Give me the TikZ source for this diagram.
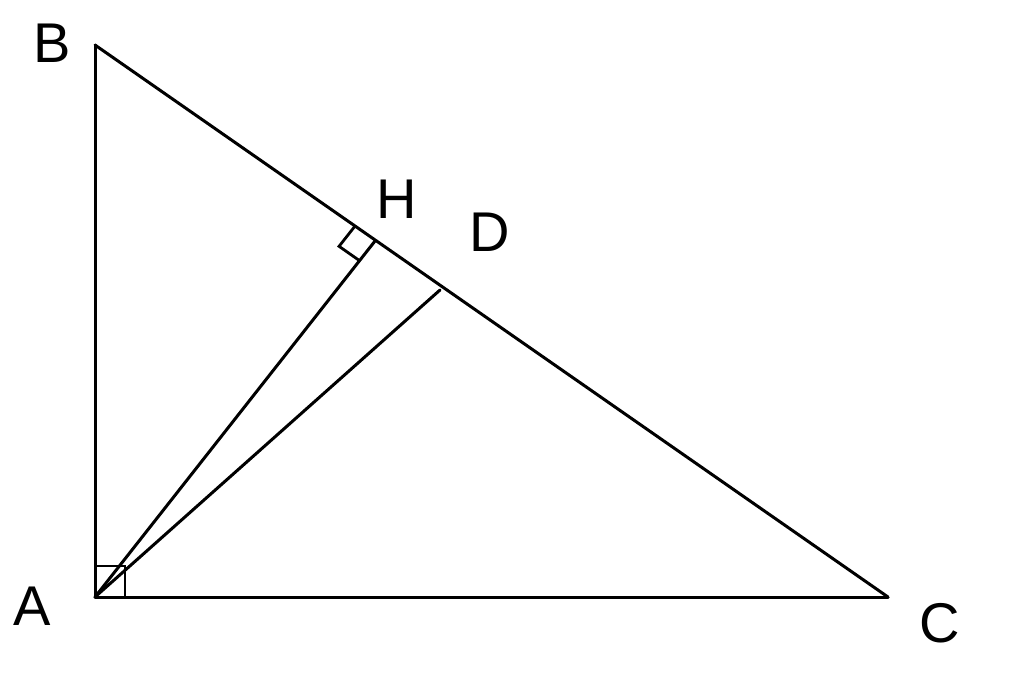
\documentclass[tikz,border=0pt]{standalone}
\usepackage{fontspec}
\setmainfont{Liberation Sans}
\usetikzlibrary{calc}

\begin{document}
\begin{tikzpicture}[x=1pt, y=-1pt, line width=3pt,
    seg/.style={draw=black, line cap=round, line join=round},
    rightmark/.style={draw=black, line width=2.8pt},
    lbl/.style={inner sep=0pt, font=\fontsize{56}{60}\selectfont}]
          \useasboundingbox (0,0) rectangle (1024,678);
          \coordinate (A) at (95,597);
          \coordinate (B) at (95,45);
          \coordinate (C) at (888,597);
          \coordinate (H) at (375,241);
          \coordinate (D) at (440,290);
          \coordinate (hb) at ($(H)!25pt!(B)$);
          \coordinate (ha) at ($(H)!25pt!(A)$);
          \coordinate (hc) at ($(hb)+(ha)-(H)$);
          \node[lbl](lA) at (32,606)  {A};
          \node[lbl](lB) at (52,43)   {B};
          \node[lbl](lC) at (940,623) {C};
          \node[lbl](lH) at (397,199) {H};
          \node[lbl](lD) at (490,232) {D};
          \path[seg]
            (A) edge (B)
            (B) edge (C)
            (C) edge (A)
            (A) edge (H)
            (A) edge (D)
            ;
          \draw[rightmark] (A) rectangle ++(30,-31);
          \draw[rightmark] (hb) -- (hc) -- (ha);
        \end{tikzpicture}
\end{document}
